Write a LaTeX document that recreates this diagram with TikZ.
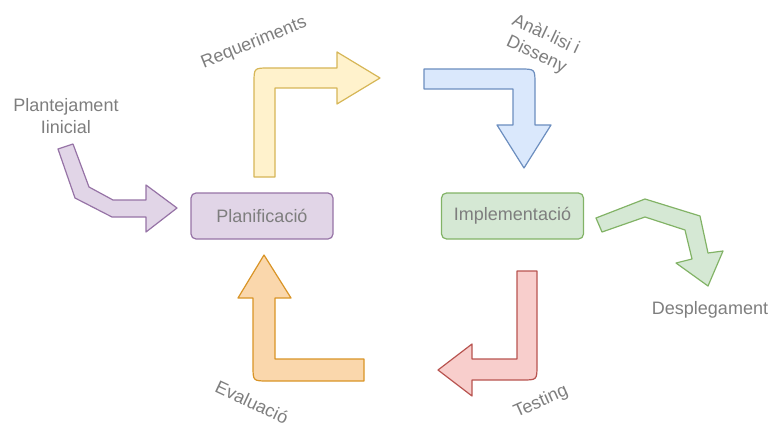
\documentclass[tikz,border=0pt]{standalone}
\usepackage{fontspec}
\setmainfont{Liberation Sans}
\definecolor{purF}{HTML}{E1D5E7}\definecolor{purD}{HTML}{9673A6}
\definecolor{yelF}{HTML}{FFF2CC}\definecolor{yelD}{HTML}{D6B656}
\definecolor{bluF}{HTML}{DAE8FC}\definecolor{bluD}{HTML}{6C8EBF}
\definecolor{grnF}{HTML}{D5E8D4}\definecolor{grnD}{HTML}{82B366}
\definecolor{redF}{HTML}{F8CECC}\definecolor{redD}{HTML}{B85450}
\definecolor{orgF}{HTML}{FAD7AC}\definecolor{orgD}{HTML}{D99426}
\definecolor{txt}{HTML}{7E7E7E}
\begin{document}
\begin{tikzpicture}[x=1pt,y=-1pt,
  shapearrow/.style={line width=1.2pt, line join=round},
  stage/.style={draw, rounded corners=5pt, line width=1.2pt, minimum width=142pt, minimum height=46pt, inner sep=0pt, text=txt, font=\fontsize{18}{22}\selectfont},
  lbl/.style={text=txt, font=\fontsize{18}{22}\selectfont, align=center, inner sep=0pt}]
\useasboundingbox (0,0) rectangle (768,425);
% stages
\node[stage, fill=purF, draw=purD] (plan) at (262,216) {Planificació};
\node[stage, fill=grnF, draw=grnD] (impl) at (512.5,216) {Implementació};
% labels
\node[lbl] (plant) at (66,116) {Plantejament\\Iinicial};
\node[lbl, rotate=22] (req) at (254,43) {Requeriments};
\node[lbl, rotate=-25] (anal) at (541,45) {Anàl·lisi i\\Disseny};
\node[lbl] (despl) at (710,310) {Desplegament};
\node[lbl, rotate=24] (test) at (541,402) {Testing};
\node[lbl, rotate=-25] (eval) at (252,402) {Evaluació};
% purple bent arrow
\draw[shapearrow, fill=purF, draw=purD] (58,149) -- (75,198) -- (112,217) -- (146,217) -- (146,232) -- (177,208) -- (146,185) -- (146,200) -- (113,200) -- (89,187) -- (73,144) -- cycle;
% yellow arrow
\draw[shapearrow, fill=yelF, draw=yelD] (254,177) -- (254,83) .. controls (254,68) .. (269,68) -- (337,68) -- (337,52) -- (380,78) -- (337,104) -- (337,88) -- (275,88) -- (275,177) -- cycle;
% blue arrow
\draw[shapearrow, fill=bluF, draw=bluD] (424,69) -- (520,69) .. controls (535,69) .. (535,84) -- (535,125) -- (551,125) -- (524,168) -- (497,125) -- (513,125) -- (513,89) -- (424,89) -- cycle;
% green arrow
\draw[shapearrow, fill=grnF, draw=grnD] (596,218) -- (645,199) -- (700,216) -- (708,253) -- (723,251) -- (708,286) -- (676,263) -- (692,259) -- (685,230) -- (645,217) -- (602,232) -- cycle;
% red arrow
\draw[shapearrow, fill=redF, draw=redD] (517,271) -- (537,271) -- (537,365) .. controls (537,380) .. (522,380) -- (472,380) -- (472,396) -- (438,370) -- (472,344) -- (472,359) -- (517,359) -- cycle;
% orange arrow
\draw[shapearrow, fill=orgF, draw=orgD] (275,359) -- (275,298) -- (291,298) -- (264,255) -- (238,298) -- (253,298) -- (253,366) .. controls (253,381) .. (268,381) -- (364,381) -- (364,359) -- cycle;
\end{tikzpicture}
\end{document}
